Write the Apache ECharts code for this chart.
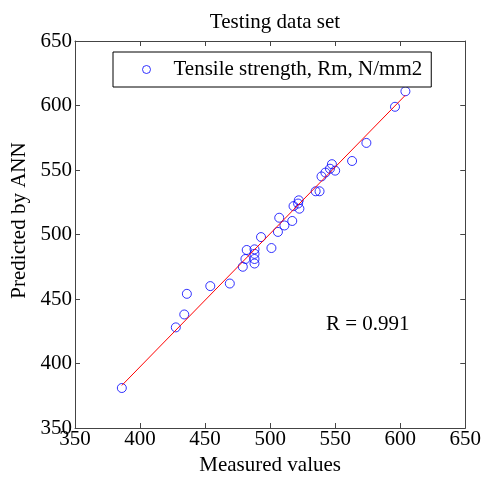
<!DOCTYPE html>
<html><head><meta charset="utf-8">
<script src="https://cdn.jsdelivr.net/npm/echarts@6/dist/echarts.min.js"></script>
<style>html,body{margin:0;padding:0;background:#fff;}#c{width:484px;height:481px;}</style>
</head><body><div id="c"></div>
<script>
const measured = [386, 427.5, 434, 436, 454, 469, 479, 481, 482, 488, 488, 488, 488, 493, 501, 506, 507, 511, 517, 518, 521.5, 522, 522.5, 535, 538, 539.5, 542.5, 546, 547.5, 550, 563, 574, 596, 604];
const predicted = [381, 428, 438, 454, 460, 462, 475, 481, 488, 477.5, 481, 485, 488.5, 498, 489.5, 502, 513, 507, 510.5, 522, 524, 526.5, 520, 533.5, 533.5, 545, 548, 551, 554.5, 549.5, 557, 571, 599, 611];
const fitX = [386, 604];
const fitY = [383, 608];
const axisTicks = [350, 400, 450, 500, 550, 600, 650];
const seriesName = 'Tensile strength, Rm, N/mm2';
const titleText = 'Testing data set';
const rText = 'R = 0.991';

const font = 'Liberation Serif';
const fs = 21;
const chart = echarts.init(document.getElementById('c'));
const pts = measured.map((m, i) => [m, predicted[i]]);
const fit = fitX.map((x, i) => [x, fitY[i]]);
const lineColor = '#444';
function axis(pos, show, name, extra) {
  return Object.assign({
    type: 'value', position: pos,
    min: axisTicks[0], max: axisTicks[axisTicks.length - 1], interval: 50,
    axisLine: { show: true, onZero: false, lineStyle: { color: lineColor, width: 1 } },
    axisTick: { show: true, inside: true, length: 5, lineStyle: { color: lineColor } },
    splitLine: { show: false },
    axisLabel: { show: show, color: '#000', fontFamily: font, fontSize: fs },
    name: name, nameLocation: 'middle',
    nameTextStyle: { color: '#000', fontFamily: font, fontSize: fs }
  }, extra || {});
}
chart.setOption({
  animation: false,
  backgroundColor: '#fff',
  title: { text: titleText, left: 270, top: 7, textAlign: 'center',
    textStyle: { fontFamily: font, fontSize: fs, fontWeight: 'normal', color: '#000' } },
  grid: { left: 75, right: 18, top: 41, bottom: 49 },
  legend: {
    data: [{ name: seriesName, icon: 'circle',
      itemStyle: { color: 'transparent', borderColor: '#0000ff', borderWidth: 1 } }],
    left: 113, top: 52, itemWidth: 8, itemHeight: 8,
    padding: [7, 9, 7, 29], borderColor: '#000', borderWidth: 1, backgroundColor: '#fff',
    textStyle: { fontFamily: font, fontSize: fs, color: '#000', padding: [0, 0, 0, 18] }
  },
  xAxis: [
    axis('bottom', true, 'Measured values', { nameGap: 27, axisLabel: { show: true, color: '#000', fontFamily: font, fontSize: fs, margin: 1 } }),
    axis('top', false, '')
  ],
  yAxis: [
    axis('left', true, 'Predicted by ANN', { nameGap: 40,
      nameTextStyle: { color: '#000', fontFamily: font, fontSize: fs, padding: [0, 0, 0, 28] },
      axisLabel: { show: true, color: '#000', fontFamily: font, fontSize: fs, margin: 3 } }),
    axis('right', false, '')
  ],
  graphic: [{ type: 'text', left: 326, top: 314,
    style: { text: rText, fontFamily: font, fontSize: fs, fill: '#000' } }],
  series: [
    { name: seriesName, type: 'scatter', data: pts, symbol: 'circle', symbolSize: 9,
      itemStyle: { color: 'transparent', borderColor: '#0000ff', borderWidth: 1 }, z: 2 },
    { name: 'fit', type: 'line', data: fit, showSymbol: false, symbol: 'none',
      itemStyle: { color: '#ff0000' },
      lineStyle: { color: '#ff0000', width: 1 }, z: 3 }
  ]
});
</script></body></html>
